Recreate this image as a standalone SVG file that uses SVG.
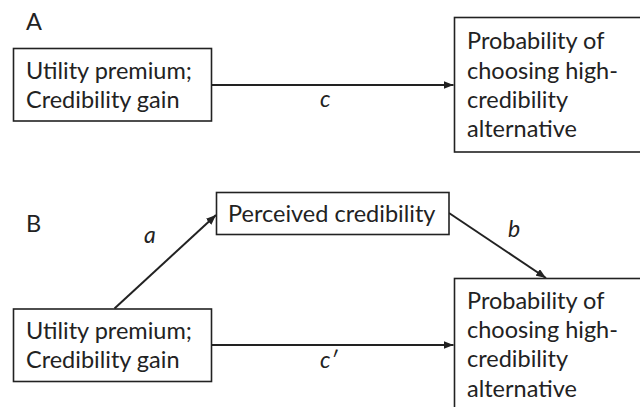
<svg xmlns="http://www.w3.org/2000/svg" width="640" height="407" viewBox="0 0 640 407">
<defs>
<style>
text{font-family:Lato,"Liberation Sans",Arial,sans-serif;fill:#222;}
.t{font-size:23.5px;}
.lbl{font-size:23px;font-style:italic;}
.box{fill:#fff;stroke:#222;stroke-width:1.6;}
.edge{stroke:#222;stroke-width:2;fill:none;marker-end:url(#ah);}
</style>
<marker id="ah" viewBox="0 0 10 8" refX="10" refY="4" markerWidth="10" markerHeight="8" markerUnits="userSpaceOnUse" orient="auto">
<path d="M0,0 L10,4 L0,8 Z" fill="#222"/>
</marker>
</defs>
<rect width="640" height="407" fill="#fff"/>
<text class="t" x="26" y="30">A</text>
<text class="t" x="26" y="232">B</text>
<g id="connectors">
<line class="edge" x1="212" y1="85" x2="453.5" y2="85"/>
<line class="edge" x1="114.5" y1="308.5" x2="216" y2="215"/>
<line class="edge" x1="449" y1="213" x2="546" y2="278"/>
<line class="edge" x1="212" y1="345" x2="453.5" y2="345"/>
<text class="lbl" x="320" y="107">c</text>
<text class="lbl" x="144" y="243">a</text>
<text class="lbl" x="508" y="237">b</text>
<text class="lbl" x="320" y="368">c′</text>
</g>
<g id="a_utility">
<rect class="box" x="13.5" y="48.5" width="198" height="72.5"/>
<text class="t" x="26" y="79">Utility premium;</text>
<text class="t" x="26" y="108">Credibility gain</text>
</g>
<g id="a_probability">
<rect class="box" x="454.5" y="17.5" width="195" height="134.5"/>
<text class="t" x="467" y="49">Probability of</text>
<text class="t" x="467" y="78.5">choosing high-</text>
<text class="t" x="467" y="108">credibility</text>
<text class="t" x="467" y="137">alternative</text>
</g>
<g id="b_perceived">
<rect class="box" x="216.5" y="192.5" width="232.5" height="42"/>
<text class="t" x="228" y="222">Perceived credibility</text>
</g>
<g id="b_utility">
<rect class="box" x="13.5" y="309" width="198" height="72.5"/>
<text class="t" x="26" y="338.5">Utility premium;</text>
<text class="t" x="26" y="368">Credibility gain</text>
</g>
<g id="b_probability">
<rect class="box" x="454.5" y="278.5" width="195" height="140"/>
<text class="t" x="467" y="308.5">Probability of</text>
<text class="t" x="467" y="337.5">choosing high-</text>
<text class="t" x="467" y="367">credibility</text>
<text class="t" x="467" y="396.5">alternative</text>
</g>
</svg>
